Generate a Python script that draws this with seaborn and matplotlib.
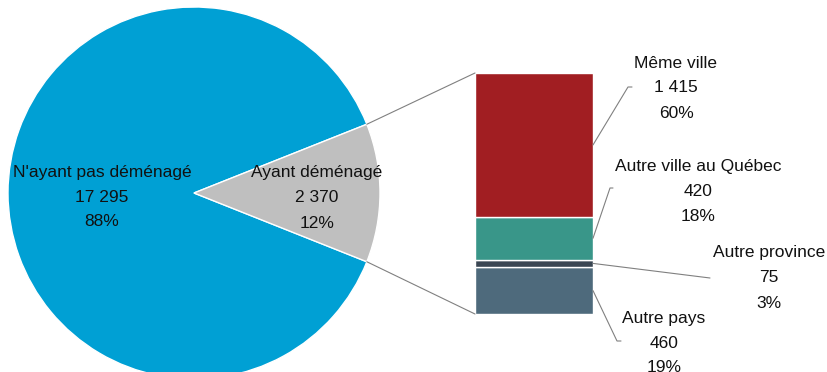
import numpy as np
import matplotlib
matplotlib.use("Agg")
import matplotlib.pyplot as plt
import seaborn as sns
from matplotlib.patches import ConnectionPatch

# Data
pie_labels = ["N'ayant pas déménagé", "Ayant déménagé"]
pie_values = [17295, 2370]
pie_colors = ["#00A0D4", "#BFBFBF"]

bar_labels = ["Autre pays", "Autre province", "Autre ville au Québec", "Même ville"]
bar_values = [460, 75, 420, 1415]
bar_colors = ["#4E6A7C", "#3A4653", "#399689", "#A11E22"]


def fmt(n):
    return f"{n:,}".replace(",", " ")


sns.set_theme(style="white")
plt.rcParams['font.family'] = ['Liberation Sans', 'DejaVu Sans']

W, H = 827, 372
fig = plt.figure(figsize=(W / 100, H / 100), dpi=100)

# Pie axes (center 194,193 px, radius 186 px)
cx, cy, r = 194, 193, 186
ax_pie = fig.add_axes([(cx - r) / W, (H - cy - r) / H, 2 * r / W, 2 * r / H])
frac_moved = pie_values[1] / sum(pie_values)
start = 180 * frac_moved
ax_pie.pie(pie_values, colors=pie_colors, startangle=start, counterclock=True,
           wedgeprops=dict(edgecolor="white", linewidth=1))
ax_pie.set_xlim(-1, 1)
ax_pie.set_ylim(-1, 1)
ax_pie.set_axis_off()

FS = 12.5
total = sum(pie_values)
pie_text_pos = [(102, 172), (317, 173)]
for lab, v, (tx, ty) in zip(pie_labels, pie_values, pie_text_pos):
    pct = round(100 * v / total)
    for i, s in enumerate([lab, fmt(v), f"{pct}%"]):
        fig.text(tx / W, 1 - (ty + 25 * i) / H, s, ha="center", va="center",
                 fontsize=FS, color="#111111")

# Bar axes
bx0, bx1, by0, by1 = 475, 593, 73, 314
ax_bar = fig.add_axes([bx0 / W, (H - by1) / H, (bx1 - bx0) / W, (by1 - by0) / H])
bar_total = sum(bar_values)
bottoms = np.concatenate([[0], np.cumsum(bar_values)[:-1]])
ax_bar.bar([0] * len(bar_values), bar_values, bottom=bottoms, width=1,
           color=bar_colors, edgecolor="white", linewidth=1)
ax_bar.set_xlim(-0.5, 0.5)
ax_bar.set_ylim(0, bar_total)
ax_bar.set_axis_off()

# connection lines pie -> bar
theta = np.deg2rad(180 * frac_moved)
for sign, yb in [(1, bar_total), (-1, 0)]:
    con = ConnectionPatch(xyA=(np.cos(theta), sign * np.sin(theta)), coordsA=ax_pie.transData,
                          xyB=(-0.5, yb), coordsB=ax_bar.transData,
                          color="#808080", linewidth=0.8)
    fig.add_artist(con)

# labels with leader lines (pixel positions from top)
label_pos = {
    "Même ville": ((676, 63), (628, 87), (632, 87)),
    "Autre ville au Québec": ((698, 166), (610, 188), (613, 188)),
    "Autre province": ((769, 253), (710, 278), (710, 278)),
    "Autre pays": ((664, 318), (617, 341), (621, 341)),
}
for lab, v, b in zip(bar_labels, bar_values, bottoms):
    (tx, ty), (ex, ey), (hx, hy) = label_pos[lab]
    pct = round(100 * v / bar_total)
    start_pt = ax_bar.transData.transform((0.5, b + v / 2))
    xs = [start_pt[0], ex, hx]
    ys = [start_pt[1], H - ey, H - hy]
    fig.add_artist(plt.Line2D(xs, ys, transform=None, color="#808080", linewidth=0.8))
    for i, s in enumerate([lab, fmt(v), f"{pct}%"]):
        fig.text(tx / W, 1 - (ty + 25 * i) / H, s, ha="center", va="center",
                 fontsize=FS, color="#111111")

fig.savefig("out.png", dpi=100)
